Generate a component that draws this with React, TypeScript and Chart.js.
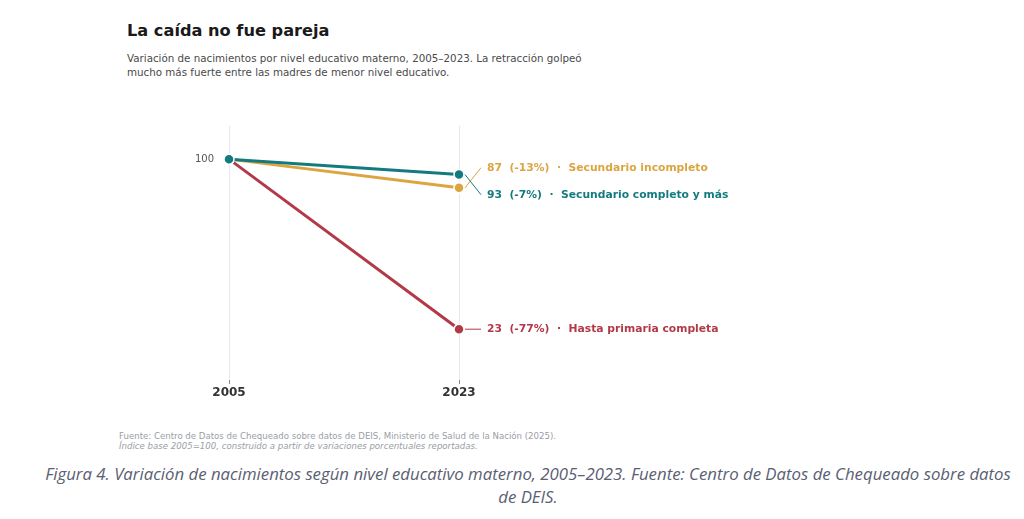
import { useEffect, useRef } from "react"
import { Chart, registerables } from "chart.js"

Chart.register(...registerables)

const years = [2005, 2023]
const seriesNames = ["Secundario completo y más", "Secundario incompleto", "Hasta primaria completa"]
const completoValues = [100, 93]
const incompletoValues = [100, 87]
const primariaValues = [100, 23]
const yTicks = [100]
// top-to-bottom order of the end labels
const labelOrder = ["Secundario incompleto", "Secundario completo y más", "Hasta primaria completa"]

const colors = ["#137b80", "#dba540", "#b23a48"]
const FONT = "'DejaVu Sans', sans-serif"

const endLabels = {
  id: "endLabels",
  afterDatasetsDraw(chart: Chart) {
    const ctx = chart.ctx
    const gap = 27
    const items = chart.data.datasets.map((ds, i) => {
      const meta = chart.getDatasetMeta(i)
      const pt = meta.data[meta.data.length - 1]
      const raw = ds.data[ds.data.length - 1] as any
      const value = raw.y as number
      return { name: ds.label as string, color: colors[i], x: pt.x, y: pt.y, value, ly: pt.y }
    })
    items.sort((a, b) => labelOrder.indexOf(a.name) - labelOrder.indexOf(b.name))

    // group labels that are too close and spread them around their centre
    const groups: (typeof items)[] = []
    for (const it of items) {
      const last = groups[groups.length - 1]
      if (last && Math.abs(last[last.length - 1].y - it.y) < gap) last.push(it)
      else groups.push([it])
    }
    for (const g of groups) {
      const mid = g.reduce((s, it) => s + it.y, 0) / g.length
      g.forEach((it, k) => {
        it.ly = mid + (k - (g.length - 1) / 2) * gap
      })
    }

    ctx.save()
    ctx.font = `bold 10.75px ${FONT}`
    ctx.textBaseline = "middle"
    ctx.textAlign = "left"
    for (const it of items) {
      ctx.strokeStyle = it.color
      ctx.lineWidth = 1
      ctx.beginPath()
      ctx.moveTo(it.x + 6, it.y)
      ctx.lineTo(it.x + 22, it.ly)
      ctx.stroke()
      ctx.fillStyle = it.color
      const pct = it.value - 100
      ctx.fillText(`${it.value}  (${pct}%)  ·  ${it.name}`, it.x + 28, it.ly)
    }
    ctx.restore()
  },
}

export default function App() {
  const canvasRef = useRef<HTMLCanvasElement>(null)

  useEffect(() => {
    document.body.style.margin = "0"
    if (!canvasRef.current) return
    const all = [completoValues, incompletoValues, primariaValues]
    const chart = new Chart(canvasRef.current, {
      type: "line",
      data: {
        datasets: all.map((vals, i) => ({
          label: seriesNames[i],
          data: years.map((y, k) => ({ x: y, y: vals[k] })),
          borderColor: colors[i],
          backgroundColor: colors[i],
          borderWidth: 3,
          pointRadius: 5,
          pointBorderColor: "#ffffff",
          pointBorderWidth: 1.5,
          clip: false,
        })),
      },
      options: {
        animation: false,
        responsive: false,
        layout: { padding: { left: 189, right: 565, top: 16, bottom: 0 } },
        plugins: { legend: { display: false }, tooltip: { enabled: false } },
        scales: {
          x: {
            type: "linear",
            min: years[0],
            max: years[years.length - 1],
            afterBuildTicks: (s: any) => {
              s.ticks = years.map((v) => ({ value: v }))
            },
            afterFit: (s: any) => {
              s.height = 30
              s.paddingLeft = 0
              s.paddingRight = 0
            },
            grid: { color: "#e4e7ec", tickColor: "#888", tickLength: 4, lineWidth: 1 },
            border: { display: false },
            ticks: {
              color: "#333",
              font: { family: FONT, size: 12, weight: "bold" },
              padding: 2,
              callback: (v: any) => String(v),
            },
          },
          y: {
            min: 0,
            max: 115,
            afterBuildTicks: (s: any) => {
              s.ticks = yTicks.map((v) => ({ value: v }))
            },
            afterFit: (s: any) => {
              s.width = 40
              s.paddingTop = 0
              s.paddingBottom = 0
            },
            grid: { display: false, drawTicks: false },
            border: { display: false },
            ticks: { color: "#555", font: { family: FONT, size: 10 }, padding: 15 },
          },
        },
      },
      plugins: [endLabels],
    })
    return () => chart.destroy()
  }, [])

  return (
    <div style={{ position: "relative", width: 1024, height: 519, background: "#fff", fontFamily: FONT, overflow: "hidden" }}>
      <div style={{ position: "absolute", left: 127, top: 21, fontSize: 16.2, fontWeight: "bold", color: "#1a1a1a" }}>
        La caída no fue pareja
      </div>
      <div style={{ position: "absolute", left: 127, top: 51, fontSize: 10.3, lineHeight: "14px", color: "#4a4a4a" }}>
        Variación de nacimientos por nivel educativo materno, 2005–2023. La retracción golpeó
        <br />
        mucho más fuerte entre las madres de menor nivel educativo.
      </div>
      <canvas ref={canvasRef} width={1024} height={300} style={{ position: "absolute", left: 0, top: 110, width: 1024, height: 300 }} />
      <div style={{ position: "absolute", left: 119, top: 431, fontSize: 8.6, lineHeight: "10px", color: "#9a9ea6" }}>
        Fuente: Centro de Datos de Chequeado sobre datos de DEIS, Ministerio de Salud de la Nación (2025).
        <br />
        <i>Índice base 2005=100, construido a partir de variaciones porcentuales reportadas.</i>
      </div>
      <div
        style={{
          position: "absolute",
          left: 0,
          width: 1056,
          top: 462,
          textAlign: "center",
          fontFamily: "'Open Sans', sans-serif",
          fontStyle: "italic",
          fontSize: 16.8,
          lineHeight: "23px",
          color: "#5a6072",
          whiteSpace: "nowrap",
        }}
      >
        Figura 4. Variación de nacimientos según nivel educativo materno, 2005–2023. Fuente: Centro de Datos de Chequeado sobre datos
        <br />
        de DEIS.
      </div>
    </div>
  )
}
